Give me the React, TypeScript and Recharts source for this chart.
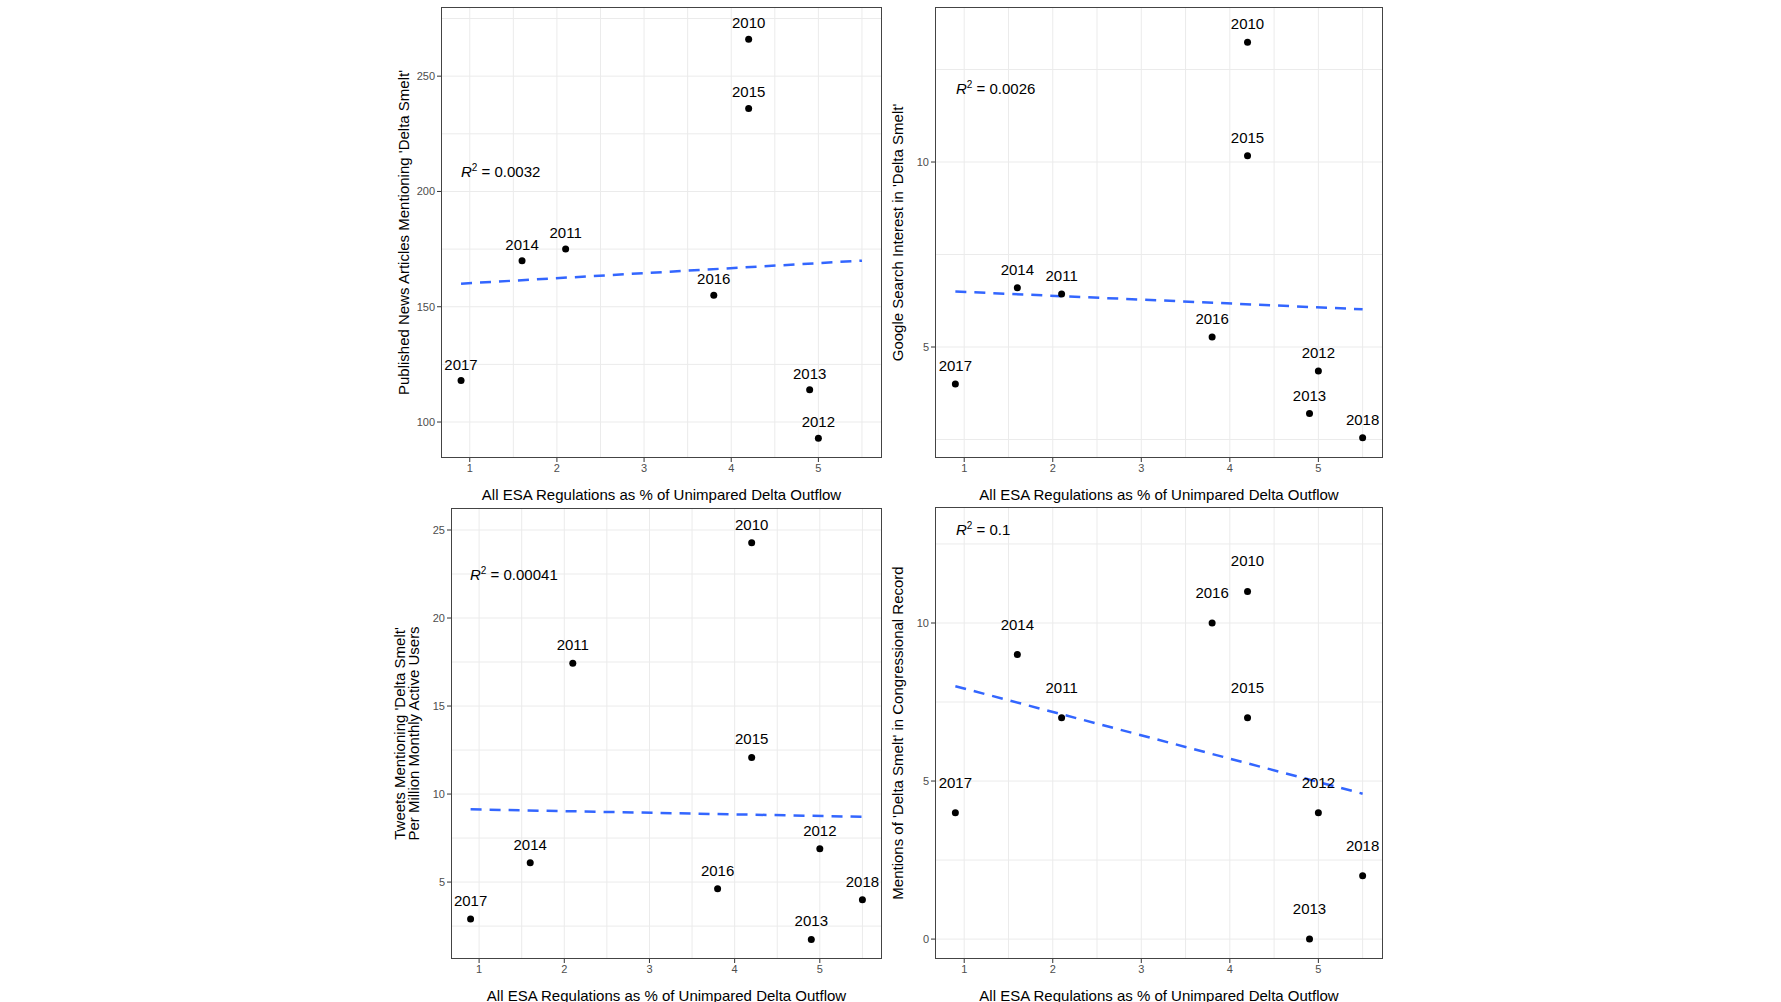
import React from 'react'
import {
  ScatterChart,
  Scatter,
  XAxis,
  YAxis,
  CartesianGrid,
  LabelList,
} from 'recharts'

// shared x values (ESA regulations as % of unimpaired outflow)
const years = ['2010', '2011', '2012', '2013', '2014', '2015', '2016', '2017', '2018']
const esaPct = [4.2, 2.1, 5.0, 4.9, 1.6, 4.2, 3.8, 0.9, 5.5]

const newsArticles = [266, 175, 93, 114, 170, 236, 155, 118, null]
const googleInterest = [13.24, 6.43, 4.35, 3.2, 6.6, 10.17, 5.27, 4.0, 2.55]
const tweetsPerMillion = [24.28, 17.43, 6.9, 1.74, 6.1, 12.08, 4.62, 2.9, 4.0]
const congressMentions = [11, 7, 4, 0, 9, 7, 10, 4, 2]

const trendX = [0.9, 5.5]
const newsTrend = [160, 170]
const googleTrend = [6.5, 6.02]
const tweetsTrend = [9.13, 8.71]
const congressTrend = [8.0, 4.6]

const xTicks = [1, 2, 3, 4, 5]
const xGrid = [1, 1.5, 2, 2.5, 3, 3.5, 4, 4.5, 5, 5.5]
const xTitle = 'All ESA Regulations as % of Unimpared Delta Outflow'

const toPoints = (vals: (number | null)[]) =>
  years
    .map((year, i) => ({ year, x: esaPct[i], y: vals[i] }))
    .filter(p => p.y !== null)

const toLine = (vals: number[]) => trendX.map((x, i) => ({ x, y: vals[i] }))

interface PanelProps {
  box: { x: number; y: number; w: number; h: number }
  values: (number | null)[]
  trend: number[]
  yDomain: [number, number]
  yTicks: number[]
  yGrid: number[]
  yTitle: string[]
  labelOffset: number
  r2: string
  r2Pos: { x: number; y: number }
}

const AXIS_W = 90
const AXIS_H = 50

function Panel({ box, values, trend, yDomain, yTicks, yGrid, yTitle, labelOffset, r2, r2Pos }: PanelProps) {
  const chartW = box.w + AXIS_W + 10
  const chartH = box.h + AXIS_H
  const xs = (v: number) => ((v - 0.67) / (5.73 - 0.67)) * box.w
  const ys = (v: number) => box.h - ((v - yDomain[0]) / (yDomain[1] - yDomain[0])) * box.h
  return (
    <>
      <div style={{ position: 'absolute', left: box.x - AXIS_W, top: box.y }}>
        <ScatterChart
          width={chartW}
          height={chartH}
          margin={{ top: 0, right: 10, bottom: 0, left: 0 }}
        >
          <CartesianGrid
            stroke="#ebebeb"
            horizontalCoordinatesGenerator={() => yGrid.map(ys)}
            verticalCoordinatesGenerator={() => xGrid.map(v => xs(v) + AXIS_W)}
          />
          <XAxis
            type="number"
            dataKey="x"
            domain={[0.67, 5.73]}
            ticks={xTicks}
            allowDataOverflow
            height={AXIS_H}
            tick={{ fill: '#4d4d4d', fontSize: 11 }}
            tickSize={4}
            tickLine={{ stroke: '#333' }}
            axisLine={false}
            label={{ value: xTitle, position: 'insideBottom', offset: 8, fill: '#000', fontSize: 15 }}
          />
          <YAxis
            type="number"
            dataKey="y"
            domain={yDomain}
            ticks={yTicks}
            allowDataOverflow
            width={AXIS_W}
            tick={{ fill: '#4d4d4d', fontSize: 11 }}
            tickSize={4}
            tickLine={{ stroke: '#333' }}
            axisLine={false}
            label={(props: any) => {
              const cy = box.h / 2
              const n = yTitle.length
              return (
                <g>
                  {yTitle.map((t, i) => {
                    const cx = AXIS_W - 32 - (n - 1 - i) * 14
                    return (
                      <text
                        key={i}
                        x={cx}
                        y={cy}
                        transform={`rotate(-90 ${cx} ${cy})`}
                        textAnchor="middle"
                        fontSize={15}
                        fill="#000"
                      >
                        {t}
                      </text>
                    )
                  })}
                </g>
              )
            }}
          />
          <Scatter
            data={toLine(trend)}
            line={{ stroke: '#3366FF', strokeWidth: 2.5, strokeDasharray: '11 8' }}
            shape={() => null}
            isAnimationActive={false}
          />
          <Scatter data={toPoints(values)} fill="#000" isAnimationActive={false} shape={(p: any) => <circle cx={p.cx} cy={p.cy} r={3.5} fill="#000" />}>
            <LabelList
              dataKey="year"
              content={(p: any) => (
                <text
                  x={p.x + p.width / 2}
                  y={p.y + p.height / 2 - labelOffset}
                  textAnchor="middle"
                  fontSize={15}
                  fill="#000"
                >
                  {p.value}
                </text>
              )}
            />
          </Scatter>
        </ScatterChart>
      </div>
      <div
        style={{
          position: 'absolute',
          left: box.x,
          top: box.y,
          width: box.w,
          height: box.h,
          border: '1px solid #444',
          boxSizing: 'border-box',
          pointerEvents: 'none',
        }}
      />
      <div
        style={{
          position: 'absolute',
          left: r2Pos.x,
          top: r2Pos.y - 10,
          fontSize: 15,
          fontFamily: 'Liberation Sans, Arial, sans-serif',
          whiteSpace: 'nowrap',
        }}
      >
        <i>R</i>
        <sup style={{ fontSize: 10 }}>2</sup> = {r2}
      </div>
    </>
  )
}

export default function App() {
  return (
    <div
      style={{
        position: 'absolute',
        left: 0,
        top: 0,
        width: 1781,
        height: 1002,
        background: '#fff',
        fontFamily: 'Liberation Sans, Arial, sans-serif',
      }}
    >
      <Panel
        box={{ x: 441, y: 7, w: 441, h: 451 }}
        values={newsArticles}
        trend={newsTrend}
        yDomain={[84.4, 280]}
        yTicks={[100, 150, 200, 250]}
        yGrid={[100, 125, 150, 175, 200, 225, 250, 275]}
        yTitle={["Published News Articles Mentioning 'Delta Smelt'"]}
        labelOffset={11}
        r2="0.0032"
        r2Pos={{ x: 461, y: 172 }}
      />
      <Panel
        box={{ x: 935, y: 7, w: 448, h: 451 }}
        values={googleInterest}
        trend={googleTrend}
        yDomain={[2.0, 14.19]}
        yTicks={[5, 10]}
        yGrid={[2.5, 5, 7.5, 10, 12.5]}
        yTitle={["Google Search Interest in 'Delta Smelt'"]}
        labelOffset={13}
        r2="0.0026"
        r2Pos={{ x: 956, y: 89 }}
      />
      <Panel
        box={{ x: 451, y: 508, w: 431, h: 451 }}
        values={tweetsPerMillion}
        trend={tweetsTrend}
        yDomain={[0.63, 26.25]}
        yTicks={[5, 10, 15, 20, 25]}
        yGrid={[2.5, 5, 7.5, 10, 12.5, 15, 17.5, 20, 22.5, 25]}
        yTitle={["Tweets Mentioning 'Delta Smelt'", 'Per Million Monthly Active Users']}
        labelOffset={13}
        r2="0.00041"
        r2Pos={{ x: 470, y: 575 }}
      />
      <Panel
        box={{ x: 935, y: 507, w: 448, h: 452 }}
        values={congressMentions}
        trend={congressTrend}
        yDomain={[-0.63, 13.67]}
        yTicks={[0, 5, 10]}
        yGrid={[0, 2.5, 5, 7.5, 10, 12.5]}
        yTitle={["Mentions of 'Delta Smelt' in Congressional Record"]}
        labelOffset={25}
        r2="0.1"
        r2Pos={{ x: 956, y: 530 }}
      />
    </div>
  )
}
